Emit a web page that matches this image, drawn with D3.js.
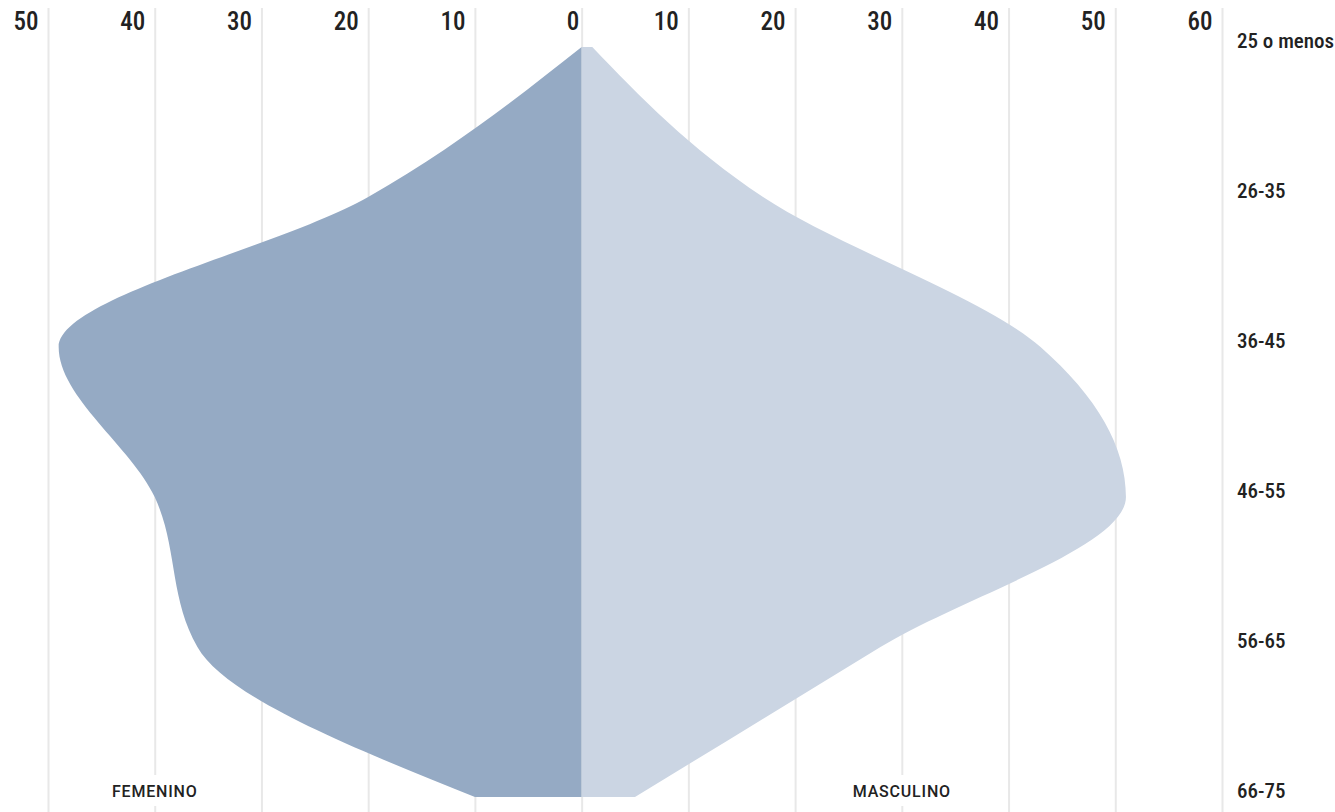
<!DOCTYPE html>
<html>
<head>
<meta charset="utf-8">
<script src="https://cdn.jsdelivr.net/npm/d3@7"></script>
<style>
  body { margin: 0; background: #fff; }
  svg { display: block; }
  .narrow { font-family: "Liberation Sans Narrow", "Roboto Condensed", "Roboto", sans-serif; }
</style>
</head>
<body>
<script>
// data (percent of each group)
var ageGroups = ["25 o menos", "26-35", "36-45", "46-55", "56-65", "66-75"];
var femenino = [0, 20, 49, 40, 36, 10];
var masculino = [1, 17, 43, 51, 28, 5];
var tickValues = [-50, -40, -30, -20, -10, 0, 10, 20, 30, 40, 50, 60];

var width = 1335, height = 812;

var x = d3.scaleLinear().domain([-50, 60]).range([48, 1222]);
var y = d3.scalePoint().domain(ageGroups).range([47, 797]);

var svg = d3.select("body").append("svg")
  .attr("width", width)
  .attr("height", height);

// vertical grid + top tick labels
var gridTop = 8;
var xAxis = svg.append("g")
  .attr("transform", "translate(0," + gridTop + ")")
  .call(d3.axisTop(x)
    .tickValues(tickValues)
    .tickSizeInner(-(height - gridTop))
    .tickSizeOuter(0)
    .tickFormat(function (d) { return Math.abs(d); }));

xAxis.select(".domain").remove();
xAxis.selectAll(".tick line")
  .attr("stroke", "#e8e8e8")
  .attr("stroke-width", 2);
xAxis.selectAll(".tick text")
  .attr("class", "narrow")
  .attr("text-anchor", "end")
  .attr("x", function (d) { return d === 0 ? -3 : -10; })
  .attr("y", 22)
  .attr("dy", 0)
  .attr("fill", "#222")
  .style("font-size", "25px")
  .style("font-weight", 500);

// areas
var areaF = d3.area()
  .curve(d3.curveMonotoneY)
  .y(function (d, i) { return y(ageGroups[i]); })
  .x0(x(0))
  .x1(function (d) { return x(-d); });

var areaM = d3.area()
  .curve(d3.curveMonotoneY)
  .y(function (d, i) { return y(ageGroups[i]); })
  .x0(x(0))
  .x1(function (d) { return x(d); });

svg.append("path")
  .datum(femenino)
  .attr("d", areaF)
  .attr("fill", "#95aac4");

svg.append("path")
  .datum(masculino)
  .attr("d", areaM)
  .attr("fill", "#cbd5e3");

// age group labels on the right
var yAxis = svg.append("g")
  .attr("transform", "translate(" + x(60) + ",0)")
  .call(d3.axisRight(y).tickSize(0));

yAxis.select(".domain").remove();
yAxis.selectAll(".tick text")
  .attr("class", "narrow")
  .attr("x", 15)
  .attr("dy", 0)
  .attr("fill", "#222")
  .style("font-size", "21px")
  .style("font-weight", 500);

// series labels at the bottom, with a white patch over the grid
var seriesLabels = [
  { name: "FEMENINO", v: -40 },
  { name: "MASCULINO", v: 30 }
];

var lab = svg.selectAll(".series-label")
  .data(seriesLabels)
  .enter()
  .append("g")
  .attr("class", "series-label");

var labText = lab.append("text")
  .attr("x", function (d) { return x(d.v); })
  .attr("y", y("66-75"))
  .attr("text-anchor", "middle")
  .style("font-family", "Roboto, sans-serif")
  .style("font-size", "16px")
  .style("font-weight", 500)
  .style("letter-spacing", "0.8px")
  .attr("fill", "#222")
  .text(function (d) { return d.name; });

labText.each(function () {
  var b = this.getBBox();
  d3.select(this.parentNode).insert("rect", "text")
    .attr("x", b.x - 6)
    .attr("y", b.y - 7)
    .attr("width", b.width + 12)
    .attr("height", b.height + 12)
    .attr("fill", "#fff");
});
</script>
</body>
</html>
